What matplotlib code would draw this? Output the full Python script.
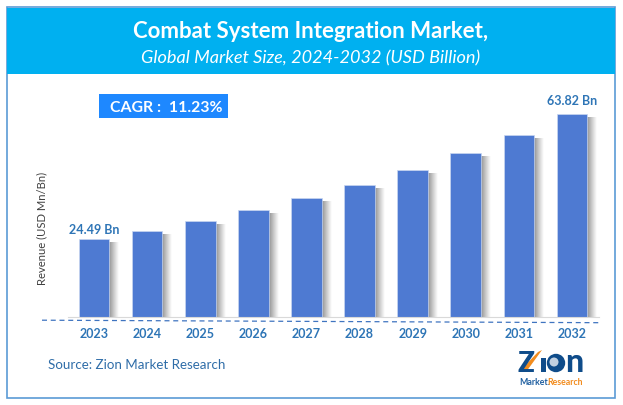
import numpy as np
import matplotlib
matplotlib.use("Agg")
import matplotlib.pyplot as plt
from matplotlib.patches import Rectangle, Circle, Polygon

plt.rcParams['font.family'] = ['Lato', 'DejaVu Sans']

years = ["2023", "2024", "2025", "2026", "2027", "2028", "2029", "2030", "2031", "2032"]
revenue = [24.49, 27.0, 30.2, 33.6, 37.4, 41.5, 46.2, 51.6, 57.2, 63.82]
first_label = "24.49 Bn"
last_label = "63.82 Bn"
title = "Combat System Integration Market,"
subtitle = "Global Market Size, 2024-2032 (USD Billion)"
cagr = "CAGR :  11.23%"
source = "Source: Zion Market Research"

W, H = 623, 406
BLUE = "#2E75B6"
BAR = "#4E7AD2"
NAVY = "#0F4C8A"
ORANGE = "#F28C1E"

fig = plt.figure(figsize=(W / 100, H / 100), dpi=100, facecolor="white")

# overlay in pixel coords for frame, header and logo
bg = fig.add_axes([0, 0, 1, 1], zorder=0)
bg.set_xlim(0, W)
bg.set_ylim(H, 0)
bg.axis("off")
bg.add_patch(Rectangle((7, 8), 608, 391, fc="white", ec="#5B9BD5", lw=1.2))
bg.add_patch(Rectangle((7, 9), 608, 66, fc="#00B0F0", ec="none"))
bg.text(311, 31, title, color="white", fontsize=16, fontweight="bold", ha="center", va="center")
bg.text(311, 58, subtitle, color="white", fontsize=13.1, style="italic", ha="center", va="center")
bg.add_patch(Rectangle((99, 95), 129, 24, fc="#1E88FF", ec="none"))
bg.text(166, 107.5, cagr, color="white", fontsize=11.4, fontweight="bold", ha="center", va="center")
bg.text(48, 365.5, source, color="#2F6DA8", fontsize=9.6, ha="left", va="center")

# dashed line under the bars
bg.plot([42, 600], [321.2, 323.7], color="#3F74C0", lw=0.9, ls=(0, (4, 3)))

# logo
bg.text(518, 372.5, "Z", color=NAVY, fontsize=20, fontweight="black", ha="left", va="baseline")
bg.add_patch(Rectangle((541, 359), 5, 14, fc=NAVY, ec="none"))
bg.add_patch(Polygon([[519, 373], [538, 353], [542, 351], [526, 373]], fc=ORANGE, ec="none"))
bg.add_patch(Circle((556, 364), 9.2, fc=NAVY, ec="none"))
bg.add_patch(Circle((554, 363), 4.5, fc="white", ec="none", alpha=0.75))
bg.text(565, 372.5, "n", color=NAVY, fontsize=23, fontweight="black", ha="left", va="baseline")
bg.text(519, 383, "Market.", color="#1F5FA0", fontsize=6.3, fontweight="bold", ha="left", va="center")
bg.text(583, 383, "Research", color=ORANGE, fontsize=6.3, fontweight="bold", ha="right", va="center")

# chart area
ax = fig.add_axes([67.5 / W, 1 - 318 / H, 531 / W, 228 / H], zorder=1)
ax.patch.set_alpha(0)
x = np.arange(len(years))
bar_w = 0.575

shadow = np.linspace(0.45, 1, 32).reshape(1, -1) ** 0.7
for xi, v in zip(x, revenue):
    ax.imshow(shadow, cmap="gray", vmin=0, vmax=1, aspect="auto", zorder=1,
              extent=(xi + bar_w / 2, xi + bar_w / 2 + 0.18, 0, v - 1.2))
ax.set_xlim(-0.5, 9.5)
ax.set_ylim(0, 71.7)
ax.bar(x, revenue, width=bar_w, color=BAR, edgecolor="#C9D7F0", linewidth=0.5, zorder=2)

for s in ["top", "left", "right"]:
    ax.spines[s].set_visible(False)
ax.spines["bottom"].set_color("#D9D9D9")
ax.set_yticks([])
ax.set_xticks(x)
ax.set_xticklabels(years, color=BLUE, fontsize=9, fontweight="bold")
ax.tick_params(axis="x", length=0, pad=7)

ax.text(x[0], revenue[0] + 1.4, first_label, color=BLUE, fontsize=9, fontweight="bold", ha="center", va="bottom")
ax.text(x[-1], revenue[-1] + 2.4, last_label, color=BLUE, fontsize=9, fontweight="bold", ha="center", va="bottom")

fig.text(42 / W, 1 - 228 / H, "Revenue (USD Mn/Bn)", color="#404040", fontsize=8.1,
         rotation=90, ha="center", va="center")

fig.savefig("out.png", dpi=100)
